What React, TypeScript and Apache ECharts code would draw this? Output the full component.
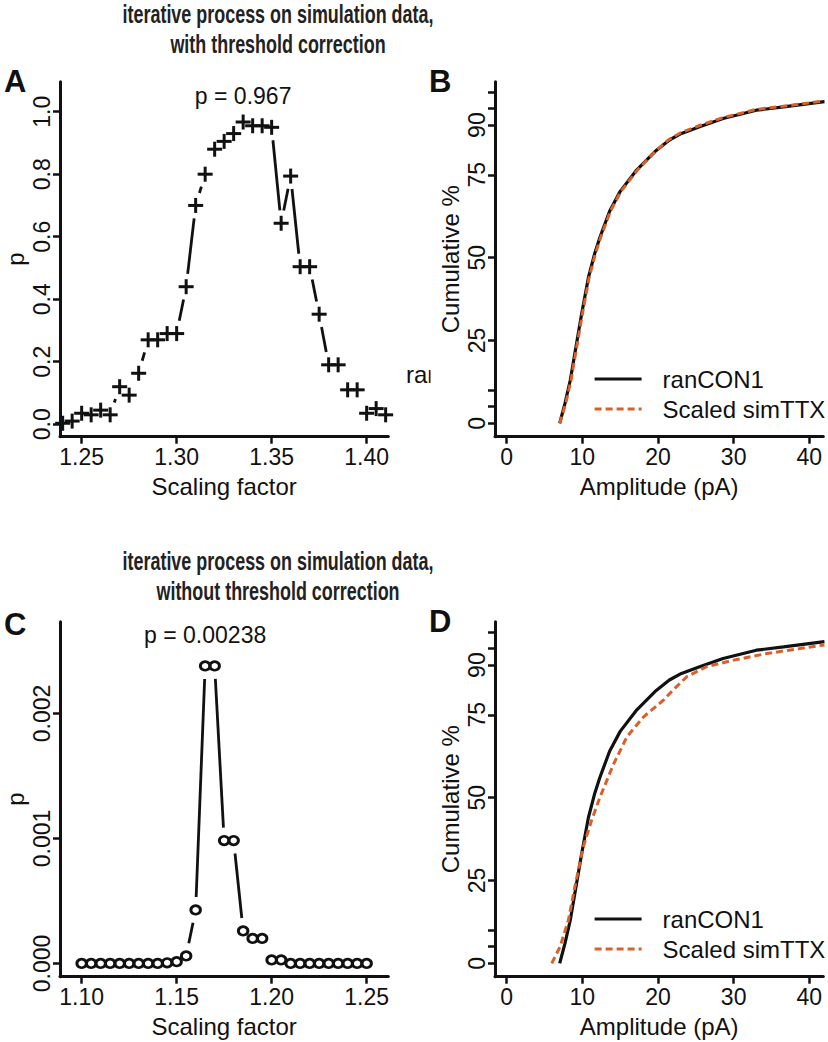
import React, { useEffect, useRef } from 'react';
import * as echarts from 'echarts';

// ---------- data ----------
const scaleA = [1.24, 1.245, 1.25, 1.255, 1.26, 1.265, 1.27, 1.275, 1.28, 1.285, 1.29, 1.295, 1.30, 1.305, 1.31, 1.315, 1.32, 1.325, 1.33, 1.335, 1.34, 1.345, 1.35, 1.355, 1.36, 1.365, 1.37, 1.375, 1.38, 1.385, 1.39, 1.395, 1.40, 1.405, 1.41];
const pA = [0.003, 0.01, 0.035, 0.03, 0.045, 0.03, 0.12, 0.093, 0.163, 0.27, 0.27, 0.29, 0.29, 0.44, 0.70, 0.80, 0.88, 0.905, 0.93, 0.967, 0.955, 0.955, 0.95, 0.643, 0.794, 0.504, 0.504, 0.352, 0.19, 0.19, 0.11, 0.11, 0.035, 0.05, 0.03];

const scaleC = [1.10, 1.105, 1.11, 1.115, 1.12, 1.125, 1.13, 1.135, 1.14, 1.145, 1.15, 1.155, 1.16, 1.165, 1.17, 1.175, 1.18, 1.185, 1.19, 1.195, 1.20, 1.205, 1.21, 1.215, 1.22, 1.225, 1.23, 1.235, 1.24, 1.245, 1.25];
const pC = [0, 0, 0, 0, 0, 0, 0, 0, 0, 0.000005, 0.000014, 0.00006, 0.000428, 0.00238, 0.00238, 0.000983, 0.000983, 0.00026, 0.0002, 0.0002, 0.000028, 0.000028, 0, 0, 0, 0, 0, 0, 0, 0, 0];

const ampCON1 = [7.0, 7.7, 8.4, 9.0, 9.9, 10.8, 11.6, 12.3, 13.6, 15.0, 17.2, 19.6, 21.5, 23.1, 25.5, 28.6, 33.0, 36.6, 42.0];
const cumCON1 = [0, 6, 13, 21, 33, 44, 51, 56, 64, 70, 76.5, 82, 85.5, 87.5, 89.5, 92, 94.5, 95.5, 97.1];

const ampTTXB = [7.0, 7.8, 8.5, 9.1, 10.0, 10.9, 11.7, 12.4, 13.7, 15.1, 17.3, 19.6, 21.4, 23.0, 25.4, 28.5, 32.9, 36.5, 42.0];
const cumTTXB = [0, 6, 13, 21, 33, 44, 51, 56, 64, 70, 76.5, 82, 85.6, 87.7, 89.8, 92.2, 94.7, 95.7, 97.3];

const ampTTXD = [5.95, 7.05, 8.15, 9.0, 10.1, 11.2, 12.3, 14.1, 15.9, 18.1, 20.7, 22.0, 23.8, 26.4, 30.0, 34.4, 42.0];
const cumTTXD = [0, 5, 13, 23, 35, 43, 50, 60, 68.4, 74.4, 79.4, 82.5, 86.5, 89.5, 91.5, 93.5, 96.1];

const ticksAX = [1.25, 1.30, 1.35, 1.40];
const ticksAY = [0, 0.2, 0.4, 0.6, 0.8, 1.0];
const ticksCX = [1.10, 1.15, 1.20, 1.25];
const ticksCY = [0, 0.001, 0.002];
const ticksCumX = [0, 10, 20, 30, 40];
const labelsCumY = [0, 25, 50, 75, 90];
const ticksCumY = [0, 5, 10, 25, 50, 75, 90, 95, 100];

const seriesNames = ['ranCON1', 'Scaled simTTX'];

// ---------- helpers ----------
const FONT = "'Liberation Sans', Arial, Helvetica, sans-serif";
const INK = '#111';
const ORANGE = '#D9602A';
const GAP = 13;

const pairs = (xs: number[], ys: number[]) => xs.map((x, i) => [x, ys[i]]);
const segments = (xs: number[], ys: number[]) => {
  const out: number[][] = [];
  for (let i = 0; i < xs.length - 1; i++) out.push([xs[i], ys[i], xs[i + 1], ys[i + 1]]);
  return out;
};
const peak = (xs: number[], ys: number[]) => {
  let k = 0;
  ys.forEach((v, i) => { if (v > ys[k]) k = i; });
  return [xs[k], ys[k]];
};

const segRender = (_p: any, api: any) => {
  const a = api.coord([api.value(0), api.value(1)]);
  const b = api.coord([api.value(2), api.value(3)]);
  const dx = b[0] - a[0];
  const dy = b[1] - a[1];
  const d = Math.hypot(dx, dy);
  if (d <= 2 * GAP + 1) return { type: 'group', children: [] };
  const ux = dx / d;
  const uy = dy / d;
  return {
    type: 'line',
    shape: { x1: a[0] + ux * GAP, y1: a[1] + uy * GAP, x2: b[0] - ux * GAP, y2: b[1] - uy * GAP },
    style: { stroke: INK, lineWidth: 2.8 },
  };
};

const plusRender = (_p: any, api: any) => {
  const p = api.coord([api.value(0), api.value(1)]);
  const h = 7.5;
  return {
    type: 'group',
    children: [
      { type: 'line', shape: { x1: p[0] - h, y1: p[1], x2: p[0] + h, y2: p[1] }, style: { stroke: INK, lineWidth: 3 } },
      { type: 'line', shape: { x1: p[0], y1: p[1] - h, x2: p[0], y2: p[1] + h }, style: { stroke: INK, lineWidth: 3 } },
    ],
  };
};

const axisCommon = {
  type: 'value',
  axisLine: { show: true, onZero: false, lineStyle: { color: INK, width: 3 } },
  splitLine: { show: false },
  nameLocation: 'middle',
  nameTextStyle: { fontSize: 24, color: INK, fontFamily: FONT },
};

const xAxisDef = (gridIndex: number, min: number, max: number, ticks: number[], dec: number, name: string) => ({
  ...axisCommon,
  gridIndex,
  min,
  max,
  name,
  nameGap: 38,
  axisTick: { show: true, length: 7, lineStyle: { color: INK, width: 2.5 }, customValues: ticks },
  axisLabel: { customValues: ticks, formatter: (v: number) => v.toFixed(dec), fontSize: 23, color: INK, fontFamily: FONT, margin: 9 },
});

const yAxisDef = (gridIndex: number, min: number, max: number, ticks: number[], labels: number[], dec: number, name: string) => ({
  ...axisCommon,
  gridIndex,
  min,
  max,
  name,
  nameGap: 33,
  nameRotate: 90,
  axisTick: { show: true, length: 7, lineStyle: { color: INK, width: 2.5 }, customValues: ticks },
  axisLabel: { customValues: labels, rotate: 90, formatter: (v: number) => v.toFixed(dec), fontSize: 23, color: INK, fontFamily: FONT, margin: 7 },
});

const legendDef = (top: number) => ({
  data: seriesNames,
  orient: 'vertical',
  left: 588,
  top,
  itemWidth: 47,
  itemHeight: 14,
  itemGap: 6,
  selectedMode: false,
  itemStyle: { opacity: 0 },
  lineStyle: { width: 3.2 },
  textStyle: { fontSize: 24, color: INK, fontFamily: FONT, padding: [0, 0, 0, 16] },
});

const titleText = (y: number, text: string) => ({
  type: 'text',
  x: 278,
  y,
  scaleX: 0.69,
  style: { text, fontSize: 26, fontWeight: 'bold', fontFamily: FONT, fill: '#222', align: 'center', verticalAlign: 'middle' },
});

const letter = (x: number, y: number, text: string) => ({
  type: 'text',
  x,
  y,
  style: { text, fontSize: 31, fontWeight: 'bold', fontFamily: FONT, fill: INK, align: 'left', verticalAlign: 'middle' },
});

const peakLabel = (xi: number, yi: number, xs: number[], ys: number[], distance: number) => {
  const pk = peak(xs, ys);
  return {
    type: 'scatter',
    xAxisIndex: xi,
    yAxisIndex: yi,
    symbolSize: 0,
    silent: true,
    data: [pk],
    itemStyle: { opacity: 1 },
    label: {
      show: true,
      position: 'top',
      distance,
      formatter: 'p = ' + String(pk[1]),
      fontSize: 23,
      color: INK,
      fontFamily: FONT,
    },
    z: 5,
  };
};

const cdfLine = (xi: number, name: string, xs: number[], ys: number[], dashed: boolean) => ({
  type: 'line',
  name,
  xAxisIndex: xi,
  yAxisIndex: xi,
  data: pairs(xs, ys),
  symbol: 'none',
  showSymbol: false,
  clip: true,
  lineStyle: dashed ? { color: ORANGE, width: 3, type: [7, 4] } : { color: INK, width: 3.2, type: 'solid' },
  itemStyle: { color: dashed ? ORANGE : INK },
  z: dashed ? 4 : 3,
});

export default function App() {
  const ref = useRef<HTMLDivElement>(null);
  useEffect(() => {
    if (!ref.current) return;
    const chart = echarts.init(ref.current, undefined, { renderer: 'svg' });
    const option: any = {
      animation: false,
      backgroundColor: '#fff',
      textStyle: { fontFamily: FONT },
      grid: [
        { left: 60, top: 81.7, width: 328.3, height: 355, outerBoundsMode: 'none' },
        { left: 495, top: 81.7, width: 328.3, height: 355, outerBoundsMode: 'none' },
        { left: 60, top: 621.7, width: 328.3, height: 355, outerBoundsMode: 'none' },
        { left: 495, top: 621.7, width: 328.3, height: 355, outerBoundsMode: 'none' },
      ],
      xAxis: [
        xAxisDef(0, 1.2386, 1.4114, ticksAX, 2, 'Scaling factor'),
        xAxisDef(1, -1.55, 41.85, ticksCumX, 0, 'Amplitude (pA)'),
        xAxisDef(2, 1.0886, 1.2614, ticksCX, 2, 'Scaling factor'),
        xAxisDef(3, -1.55, 41.85, ticksCumX, 0, 'Amplitude (pA)'),
      ],
      yAxis: [
        yAxisDef(0, -0.04, 1.096, ticksAY, ticksAY, 1, 'p'),
        yAxisDef(1, -4.04, 103.1, ticksCumY, labelsCumY, 0, 'Cumulative %'),
        yAxisDef(2, -0.000106, 0.002734, ticksCY, ticksCY, 3, 'p'),
        yAxisDef(3, -4.04, 103.1, ticksCumY, labelsCumY, 0, 'Cumulative %'),
      ],
      legend: [legendDef(362), legendDef(902)],
      series: [
        { type: 'custom', xAxisIndex: 0, yAxisIndex: 0, data: segments(scaleA, pA), renderItem: segRender, silent: true, z: 2 },
        { type: 'custom', xAxisIndex: 0, yAxisIndex: 0, data: pairs(scaleA, pA), renderItem: plusRender, silent: true, z: 3 },
        peakLabel(0, 0, scaleA, pA, 15),
        cdfLine(1, seriesNames[0], ampCON1, cumCON1, false),
        cdfLine(1, seriesNames[1], ampTTXB, cumTTXB, true),
        { type: 'custom', xAxisIndex: 2, yAxisIndex: 2, data: segments(scaleC, pC), renderItem: segRender, silent: true, z: 2 },
        {
          type: 'scatter', xAxisIndex: 2, yAxisIndex: 2, data: pairs(scaleC, pC), symbol: 'circle', symbolSize: [9.5, 8.5],
          itemStyle: { color: 'rgba(255,255,255,0)', borderColor: INK, borderWidth: 2.8, opacity: 1 }, silent: true, z: 3,
        },
        peakLabel(2, 2, scaleC, pC, 19),
        cdfLine(3, seriesNames[0], ampCON1, cumCON1, false),
        cdfLine(3, seriesNames[1], ampTTXD, cumTTXD, true),
      ],
      graphic: [
        titleText(14, 'iterative process on simulation data,'),
        titleText(44, 'with threshold correction'),
        titleText(561, 'iterative process on simulation data,'),
        titleText(591, 'without threshold correction'),
        letter(4, 81, 'A'),
        letter(429, 81, 'B'),
        letter(4, 624, 'C'),
        letter(429, 621, 'D'),
        {
          type: 'text', x: 406, y: 374, z: 10,
          style: { text: 'ran', fontSize: 24, fontFamily: FONT, fill: INK, align: 'left', verticalAlign: 'middle' },
        },
        { type: 'rect', x: 430.5, y: 356, z: 11, shape: { width: 16, height: 36 }, style: { fill: '#fff' } },
      ],
    };
    chart.setOption(option);
    return () => chart.dispose();
  }, []);
  return <div ref={ref} style={{ position: 'absolute', left: 0, top: 0, width: 828, height: 1042 }} />;
}
